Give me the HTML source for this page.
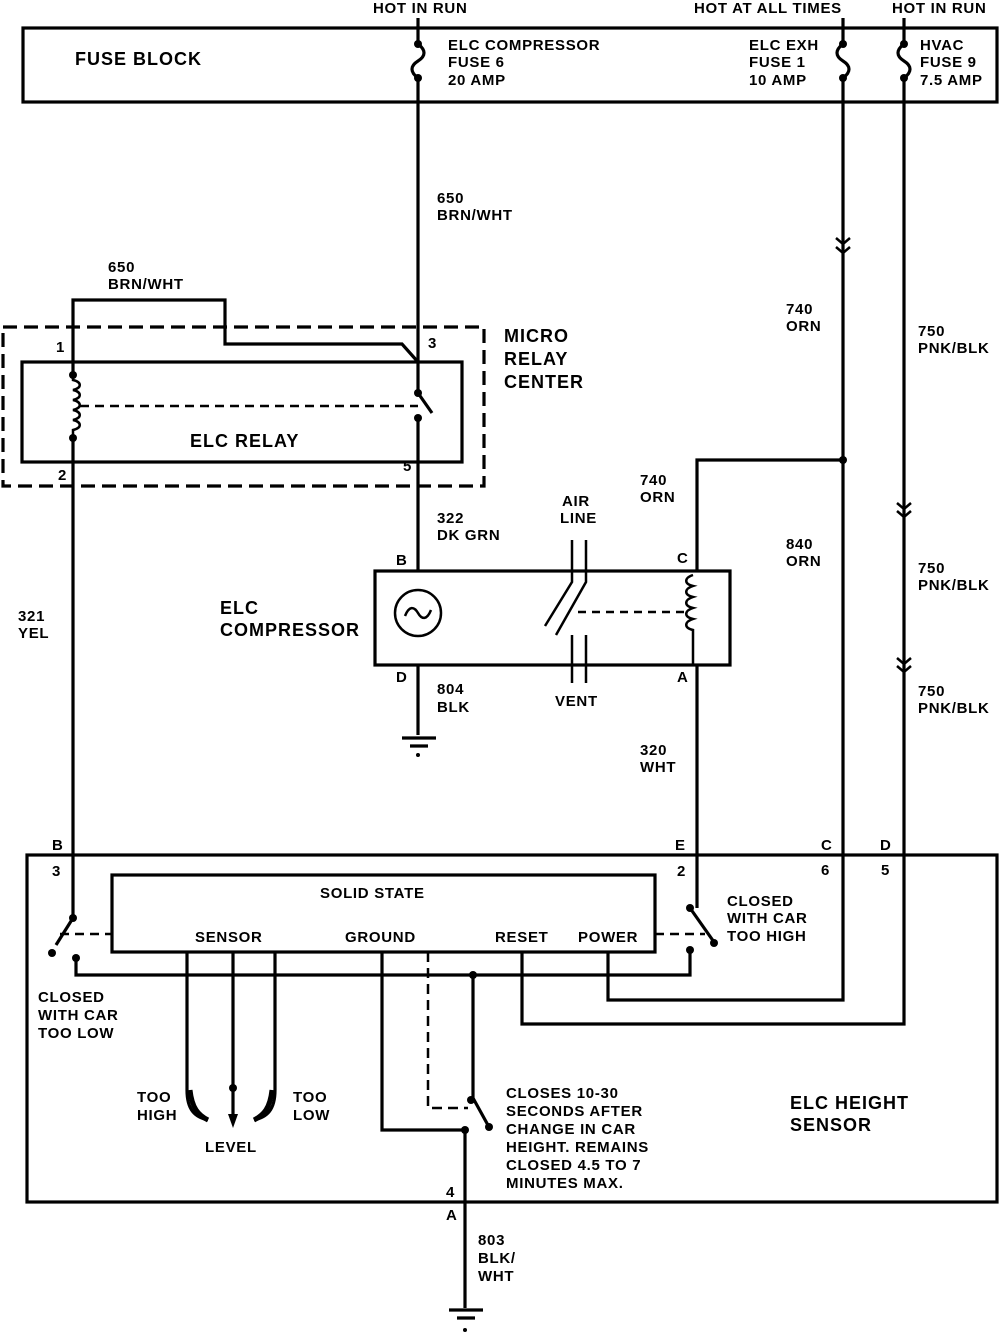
<!DOCTYPE html>
<html><head><meta charset="utf-8"><style>
html,body{margin:0;padding:0;background:#fff}
svg{display:block}
text{font-family:"Liberation Sans",Arial,sans-serif;font-weight:bold;fill:#000}
.s{font-size:15px;letter-spacing:0.7px}
.m{font-size:18px;letter-spacing:1px}
</style></head><body>
<svg width="1008" height="1334" viewBox="0 0 1008 1334" xmlns="http://www.w3.org/2000/svg">
<g fill="none" stroke="#000" stroke-width="3.2" stroke-linejoin="miter">
<rect x="23" y="28" width="974" height="74"/>
<path d="M418 18 V44 M418 44 c8 6 8 12 0 17 c-8 5 -8 11 0 17 M418 78 V393"/>
<path d="M843 18 V44 M843 44 c-8 6 -8 12 0 17 c8 5 8 11 0 17 M843 78 V1000 H608 V952"/>
<path d="M904 18 V44 M904 44 c-8 6 -8 12 0 17 c8 5 8 11 0 17 M904 78 V1024 H522 V952"/>
<path d="M836 238 l7 6 l7 -6 M836 247 l7 6 l7 -6" stroke-width="2.5"/>
<path d="M897 503 l7 6 l7 -6 M897 511 l7 6 l7 -6" stroke-width="2.5"/>
<path d="M897 658 l7 6 l7 -6 M897 666 l7 6 l7 -6" stroke-width="2.5"/>
<path d="M843 460 H697 V571"/>
<path d="M697 665 V908"/>
<rect x="3" y="327" width="481" height="159" stroke-dasharray="14 7"/>
<rect x="22" y="362" width="440" height="100"/>
<path d="M73 375 V300 H225 V344 H402 L418 362"/>
<path d="M73 438 V918"/>
<path d="M73 375 V380 c9 2 9 8 0 10 c9 2 9 8 0 10 c9 2 9 8 0 10 c9 2 9 8 0 10 c9 2 9 8 0 10 V438" stroke-width="2.5"/>
<path d="M80 406 H418" stroke-width="2.5" stroke-dasharray="9 6"/>
<path d="M418 393 L432 413"/>
<path d="M418 418 V571"/>
<rect x="375" y="571" width="355" height="94"/>
<circle cx="418" cy="613" r="23" stroke-width="2.5"/>
<path d="M405 616 c4 -10 9 -10 13 -3 c4 7 9 7 13 -3" stroke-width="2.5"/>
<path d="M418 665 V735 M402 738 H436 M410 746 H428"/>
<path d="M572 540 V582 L545 626 M586 540 V582 L556 635" stroke-width="2.5"/>
<path d="M572 635 V683 M586 635 V683" stroke-width="2.5"/>
<path d="M578 612 H686" stroke-width="2.5" stroke-dasharray="8 6"/>
<path d="M693 575 c-9 3 -9 9 0 11 c-9 3 -9 9 0 11 c-9 3 -9 9 0 11 c-9 3 -9 9 0 11 c-9 3 -9 9 0 11 V665" stroke-width="2.5"/>
<rect x="27" y="855" width="970" height="347"/>
<rect x="112" y="875" width="543" height="77"/>
<path d="M73 918 L56 945"/>
<path d="M60 934 H112" stroke-width="2.5" stroke-dasharray="9 6"/>
<path d="M76 958 V975 H690 V952"/>
<path d="M690 908 L714 942"/>
<path d="M655 934 H705" stroke-width="2.5" stroke-dasharray="9 6"/>
<path d="M473 975 V1098 L489 1127"/>
<path d="M428 952 V1108 H468" stroke-width="2.5" stroke-dasharray="10 6"/>
<path d="M382 952 V1130 H465 V1308 M449 1310 H483 M457 1318 H475"/>
<path d="M187 952 V1090 C187 1110 195 1117 208 1120"/>
<path d="M190 1090 C192 1108 198 1115 208 1120" stroke-width="5"/>
<path d="M275 952 V1090 C275 1110 267 1117 254 1120"/>
<path d="M272 1090 C270 1108 264 1115 254 1120" stroke-width="5"/>
<path d="M233 952 V1120"/>
</g>
<g fill="#000">
<circle cx="418" cy="44" r="4"/><circle cx="418" cy="78" r="4"/>
<circle cx="843" cy="44" r="4"/><circle cx="843" cy="78" r="4"/>
<circle cx="904" cy="44" r="4"/><circle cx="904" cy="78" r="4"/>
<circle cx="843" cy="460" r="4"/>
<circle cx="73" cy="375" r="4"/><circle cx="73" cy="438" r="4"/>
<circle cx="418" cy="393" r="4"/><circle cx="418" cy="418" r="4"/>
<circle cx="73" cy="918" r="4"/><circle cx="52" cy="953" r="4"/><circle cx="76" cy="958" r="4"/>
<circle cx="690" cy="908" r="4"/><circle cx="690" cy="950" r="4"/><circle cx="714" cy="943" r="4"/>
<circle cx="473" cy="975" r="4"/><circle cx="471" cy="1100" r="4"/><circle cx="489" cy="1127" r="4"/><circle cx="465" cy="1130" r="4"/>
<circle cx="233" cy="1088" r="4"/>
<circle cx="465" cy="1330" r="2"/><circle cx="418" cy="755" r="2"/>
<path d="M228 1114 L238 1114 L233 1128 Z"/>
</g>
<text class="s" x="373" y="13">HOT IN RUN</text>
<text class="s" x="694" y="13">HOT AT ALL TIMES</text>
<text class="s" x="892" y="13">HOT IN RUN</text>
<text class="m" x="75" y="65">FUSE BLOCK</text>
<text class="s" x="448" y="50">ELC COMPRESSOR</text>
<text class="s" x="448" y="67">FUSE 6</text>
<text class="s" x="448" y="85">20 AMP</text>
<text class="s" x="749" y="50">ELC EXH</text>
<text class="s" x="749" y="67">FUSE 1</text>
<text class="s" x="749" y="85">10 AMP</text>
<text class="s" x="920" y="50">HVAC</text>
<text class="s" x="920" y="67">FUSE 9</text>
<text class="s" x="920" y="85">7.5 AMP</text>
<text class="s" x="437" y="203">650</text><text class="s" x="437" y="220">BRN/WHT</text>
<text class="s" x="108" y="272">650</text><text class="s" x="108" y="289">BRN/WHT</text>
<text class="s" x="786" y="314">740</text><text class="s" x="786" y="331">ORN</text>
<text class="s" x="918" y="336">750</text><text class="s" x="918" y="353">PNK/BLK</text>
<text class="m" x="504" y="342">MICRO</text>
<text class="m" x="504" y="365">RELAY</text>
<text class="m" x="504" y="388">CENTER</text>
<text class="s" x="56" y="352">1</text><text class="s" x="428" y="348">3</text>
<text class="s" x="58" y="480">2</text><text class="s" x="403" y="471">5</text>
<text class="m" x="190" y="447">ELC RELAY</text>
<text class="s" x="640" y="485">740</text><text class="s" x="640" y="502">ORN</text>
<text class="s" x="562" y="506">AIR</text><text class="s" x="560" y="523">LINE</text>
<text class="s" x="437" y="523">322</text><text class="s" x="437" y="540">DK GRN</text>
<text class="s" x="786" y="549">840</text><text class="s" x="786" y="566">ORN</text>
<text class="s" x="918" y="573">750</text><text class="s" x="918" y="590">PNK/BLK</text>
<text class="s" x="396" y="565">B</text><text class="s" x="677" y="563">C</text>
<text class="m" x="220" y="614">ELC</text>
<text class="m" x="220" y="636">COMPRESSOR</text>
<text class="s" x="18" y="621">321</text><text class="s" x="18" y="638">YEL</text>
<text class="s" x="396" y="682">D</text><text class="s" x="677" y="682">A</text>
<text class="s" x="437" y="694">804</text><text class="s" x="437" y="712">BLK</text>
<text class="s" x="555" y="706">VENT</text>
<text class="s" x="918" y="696">750</text><text class="s" x="918" y="713">PNK/BLK</text>
<text class="s" x="640" y="755">320</text><text class="s" x="640" y="772">WHT</text>
<text class="s" x="52" y="850">B</text><text class="s" x="675" y="850">E</text>
<text class="s" x="821" y="850">C</text><text class="s" x="880" y="850">D</text>
<text class="s" x="52" y="876">3</text><text class="s" x="677" y="876">2</text>
<text class="s" x="821" y="875">6</text><text class="s" x="881" y="875">5</text>
<text class="s" x="320" y="898">SOLID STATE</text>
<text class="s" x="195" y="942">SENSOR</text>
<text class="s" x="345" y="942">GROUND</text>
<text class="s" x="495" y="942">RESET</text>
<text class="s" x="578" y="942">POWER</text>
<text class="s" x="727" y="906">CLOSED</text><text class="s" x="727" y="923">WITH CAR</text><text class="s" x="727" y="941">TOO HIGH</text>
<text class="s" x="38" y="1002">CLOSED</text><text class="s" x="38" y="1020">WITH CAR</text><text class="s" x="38" y="1038">TOO LOW</text>
<text class="s" x="137" y="1102">TOO</text><text class="s" x="137" y="1120">HIGH</text>
<text class="s" x="293" y="1102">TOO</text><text class="s" x="293" y="1120">LOW</text>
<text class="s" x="205" y="1152">LEVEL</text>
<text class="s" x="506" y="1098">CLOSES 10-30</text>
<text class="s" x="506" y="1116">SECONDS AFTER</text>
<text class="s" x="506" y="1134">CHANGE IN CAR</text>
<text class="s" x="506" y="1152">HEIGHT.  REMAINS</text>
<text class="s" x="506" y="1170">CLOSED 4.5 TO 7</text>
<text class="s" x="506" y="1188">MINUTES  MAX.</text>
<text class="m" x="790" y="1109">ELC HEIGHT</text>
<text class="m" x="790" y="1131">SENSOR</text>
<text class="s" x="446" y="1197">4</text><text class="s" x="446" y="1220">A</text>
<text class="s" x="478" y="1245">803</text><text class="s" x="478" y="1263">BLK/</text><text class="s" x="478" y="1281">WHT</text>
</svg>
</body></html>
